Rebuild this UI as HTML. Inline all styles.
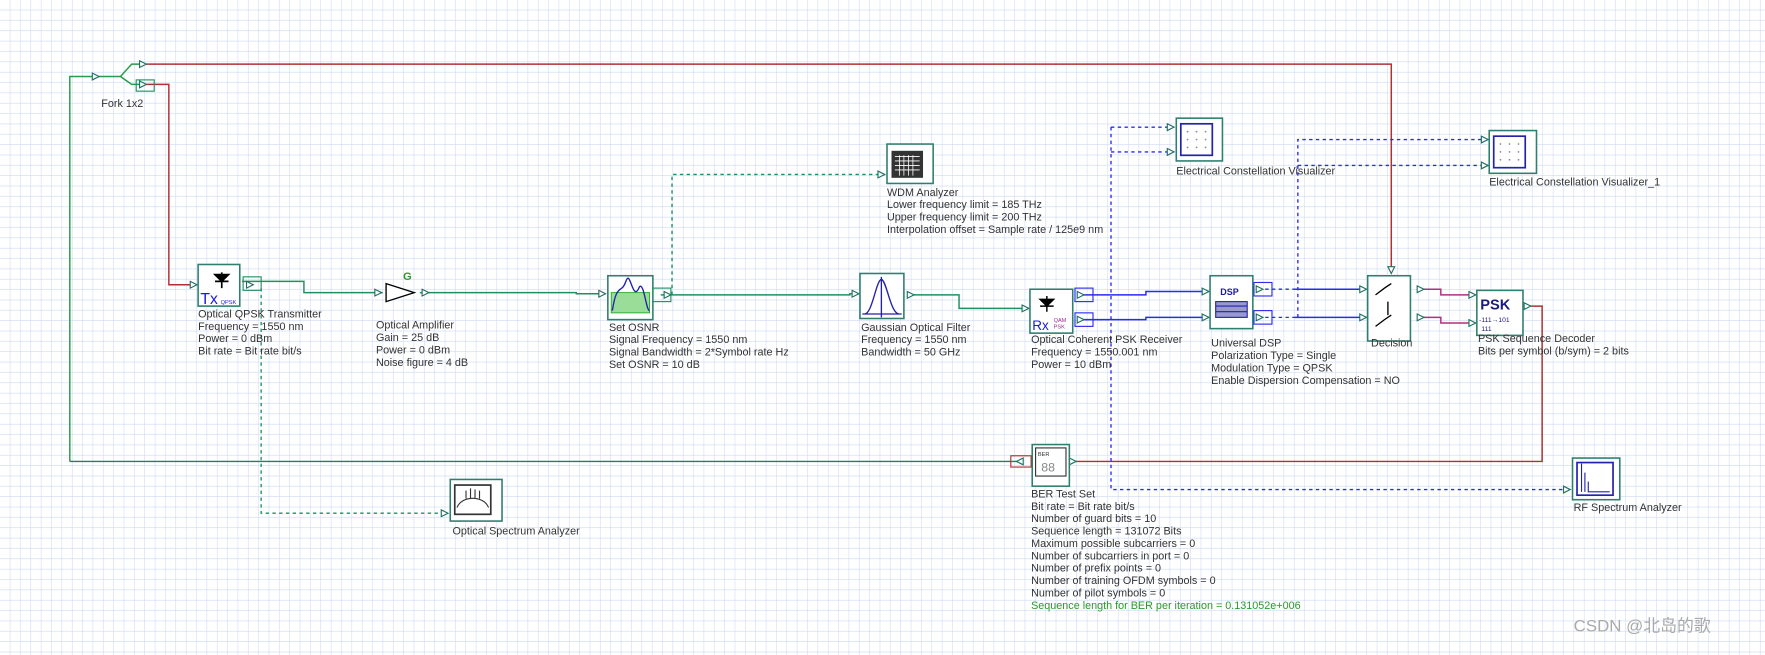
<!DOCTYPE html>
<html><head><meta charset="utf-8"><style>
html,body{margin:0;padding:0;background:#fff;}
svg{display:block;}
text{font-family:"Liberation Sans",Arial,sans-serif;font-size:9.6px;fill:#333;}
</style></head><body>
<svg width="1765" height="655" viewBox="0 0 1568 582" preserveAspectRatio="none" xmlns="http://www.w3.org/2000/svg">
<defs>
<pattern id="g" width="9.2" height="9.2" patternUnits="userSpaceOnUse">
<path d="M9.2 0V9.2H0" fill="none" stroke="#ccdaf3" stroke-width="1"/>
</pattern>
</defs>
<rect width="1568" height="582" fill="#fff"/>
<rect width="1568" height="582" fill="url(#g)"/>

<g fill="none" stroke-width="1.3">
<path d="M62 410V68H107L117 57H130M107 68L117 75H130" stroke="#2a9a4a"/>
<path d="M130 57H1236V243" stroke="#b03030"/>
<path d="M130 75H150V253H175" stroke="#b03030"/>
<path d="M62 410H907" stroke="#1f8060"/>
<path d="M215 250H270V260H340" stroke="#1f9060"/>
<path d="M373 260H512V261H538" stroke="#1f9060"/>
<path d="M587 262H755V261H763" stroke="#1f9060"/>
<path d="M810 262H852V274H914" stroke="#1f9060"/>
<path d="M1360 272H1370V410H955" stroke="#b03030"/>
<path d="M958 262H1018V259H1074M958 284H1018V282H1074" stroke="#2a2af0"/>
<path d="M1150 257H1214M1150 282H1214" stroke="#2a2af0"/>
<path d="M1262 257H1280V262H1311M1262 282H1280V287H1311" stroke="#b0307a"/>
</g>
<g fill="none" stroke-width="1.2" stroke-dasharray="3,3">
<path d="M232 256V456H398" stroke="#1f9060"/>
<path d="M597 262V155H786" stroke="#1f9060"/>
<path d="M1118 257H1150M1118 282H1150M1153 282V124H1322M1153 147H1322" stroke="#2a2af0"/>
<path d="M958 284H987M987 113V435H1395M987 113H1043M987 135H1043" stroke="#2a2af0"/>
</g>

<g fill="#fff" stroke="#1f7060" stroke-width="1">
<path d="M82 65L88 68L82 71Z"/><path d="M124 54L130 57L124 60Z"/><path d="M124 72L130 75L124 78Z"/>
<path d="M169 250L175 253L169 256Z"/><path d="M219 250L225 253L219 256Z"/>
<path d="M333 257L339 260L333 263Z"/><path d="M375 257L381 260L375 263Z"/>
<path d="M532 258L538 261L532 264Z"/><path d="M590 259L596 262L590 265Z"/>
<path d="M757 258L763 261L757 264Z"/><path d="M806 259L812 262L806 265Z"/>
<path d="M908 271L914 274L908 277Z"/>
<path d="M957 259L963 262L957 265Z"/><path d="M957 281L963 284L957 287Z"/>
<path d="M1068 256L1074 259L1068 262Z"/><path d="M1068 279L1074 282L1068 285Z"/>
<path d="M1116 254L1122 257L1116 260Z"/><path d="M1116 279L1122 282L1116 285Z"/>
<path d="M1208 254L1214 257L1208 260Z"/><path d="M1208 279L1214 282L1208 285Z"/>
<path d="M1259 254L1265 257L1259 260Z"/><path d="M1259 279L1265 282L1259 285Z"/>
<path d="M1305 259L1311 262L1305 265Z"/><path d="M1305 284L1311 287L1305 290Z"/>
<path d="M1354 269L1360 272L1354 275Z"/>
<path d="M1233 237L1236 243L1239 237Z"/>
<path d="M780 152L786 155L780 158Z"/><path d="M392 453L398 456L392 459Z"/>
<path d="M1037 110L1043 113L1037 116Z"/><path d="M1037 132L1043 135L1037 138Z"/>
<path d="M1316 121L1322 124L1316 127Z"/><path d="M1316 144L1322 147L1316 150Z"/>
<path d="M1389 432L1395 435L1389 438Z"/>
<path d="M909 407L903 410L909 413Z"/><path d="M950 407L956 410L950 413Z"/>
</g>
<g fill="none" stroke-width="1">
<rect x="216" y="246" width="16" height="12" stroke="#1f9060"/>
<rect x="580" y="256" width="16" height="12" stroke="#1f9060"/>
<rect x="955" y="256" width="16" height="12" stroke="#2a2af0"/>
<rect x="955" y="278" width="16" height="12" stroke="#2a2af0"/>
<rect x="1114" y="251" width="16" height="12" stroke="#2a2af0"/>
<rect x="1114" y="276" width="16" height="12" stroke="#2a2af0"/>
<rect x="121" y="71" width="16" height="10" stroke="#1f9060"/>
<rect x="898" y="405" width="18" height="10" stroke="#b03030"/>
</g>

<g fill="#fff" stroke="#2f7f6f" stroke-width="1.4">
<rect x="176" y="235" width="37" height="37"/>
<rect x="540" y="245" width="40" height="39"/>
<rect x="764" y="243" width="39" height="40"/>
<rect x="915" y="257" width="38" height="39"/>
<rect x="1075" y="245" width="38" height="47"/>
<rect x="1215" y="245" width="38" height="58"/>
<rect x="1312" y="258" width="41" height="40"/>
<rect x="788" y="128" width="41" height="35"/>
<rect x="1045" y="105" width="41" height="38"/>
<rect x="1323" y="116" width="42" height="38"/>
<rect x="400" y="426" width="46" height="37"/>
<rect x="1397" y="407" width="42" height="37"/>
<rect x="917" y="395" width="33" height="37"/>
</g>
<g>
<path d="M191 244l6 6 6-6zM191 250h12M197 242v14" stroke="#000" stroke-width="1.5" fill="#000"/>
<text x="178" y="270" style="font-size:14px;fill:#1a1adf">Tx</text><text x="196" y="270" style="font-size:5px;fill:#1a1adf">QPSK</text>
<path d="M343 252L368 260L343 268Z" fill="#fff" stroke="#000" stroke-width="1.2"/>
<text x="358" y="249" style="font-size:10px;fill:#2a9a2a;font-weight:bold">G</text>
<rect x="543" y="260" width="34" height="18" fill="#9d9" stroke="#2a2" stroke-width=".8"/>
<path d="M544 276C548 250 552 262 556 250C560 238 562 270 568 255C572 250 574 276 577 276" fill="none" stroke="#22a" stroke-width="1.2"/>
<path d="M768 279C775 279 778 250 783 248C788 250 791 279 799 279M783 246V282M766 279H801" fill="none" stroke="#22a" stroke-width="1.2"/>
<path d="M924 266l6 6 6-6zM924 272h12M930 263v14" stroke="#000" stroke-width="1.3" fill="#000"/>
<text x="917" y="293" style="font-size:12px;fill:#1a1adf">Rx</text><text x="936" y="286" style="font-size:5px;fill:#a03090">QAM</text><text x="936" y="292" style="font-size:5px;fill:#a03090">PSK</text>
<text x="1084" y="262" style="font-size:8px;fill:#1a1a9f;font-weight:bold">DSP</text>
<rect x="1080" y="268" width="28" height="14" fill="#99c" stroke="#22a"/>
<path d="M1080 272H1108M1080 277H1108" stroke="#22a"/>
<path d="M1222 262l8-6 6-4M1222 290l8-6 6-4M1233 268v12" stroke="#000" stroke-width="1.2" fill="none"/>
<text x="1315" y="275" style="font-size:13px;fill:#1a1a7f;font-weight:bold">PSK</text>
<text x="1314" y="286" style="font-size:6px;fill:#1a1a7f">-111→101</text><text x="1316" y="294" style="font-size:6px;fill:#1a1a7f">111</text>
<rect x="792" y="134" width="28" height="24" fill="#333"/>
<path d="M795 139H817M795 143H817M795 147H817M795 151H817M799 138V156M803 138V156M807 138V156M811 138V156" stroke="#fff" stroke-width=".7"/>
<rect x="1049" y="110" width="28" height="28" fill="#fff" stroke="#22a" stroke-width="1.5"/>
<rect x="1327" y="121" width="28" height="28" fill="#fff" stroke="#22a" stroke-width="1.5"/>
<g fill="#88a"><circle cx="1055" cy="117" r=".8"/><circle cx="1063" cy="117" r=".8"/><circle cx="1071" cy="117" r=".8"/><circle cx="1055" cy="124" r=".8"/><circle cx="1063" cy="124" r=".8"/><circle cx="1071" cy="124" r=".8"/><circle cx="1055" cy="131" r=".8"/><circle cx="1063" cy="131" r=".8"/><circle cx="1071" cy="131" r=".8"/>
<circle cx="1333" cy="128" r=".8"/><circle cx="1341" cy="128" r=".8"/><circle cx="1349" cy="128" r=".8"/><circle cx="1333" cy="135" r=".8"/><circle cx="1341" cy="135" r=".8"/><circle cx="1349" cy="135" r=".8"/><circle cx="1333" cy="142" r=".8"/><circle cx="1341" cy="142" r=".8"/><circle cx="1349" cy="142" r=".8"/></g>
<rect x="404" y="431" width="32" height="26" fill="#fff" stroke="#333" stroke-width="1.5"/>
<path d="M406 451C410 440 430 440 434 451M414 443V436M418 443V434M422 443V435M426 443V436" stroke="#333" fill="none"/>
<rect x="1401" y="411" width="32" height="29" fill="#fff" stroke="#22a" stroke-width="1.5"/>
<path d="M1405 412V437M1408 420V437M1411 428V437H1430" stroke="#22a" fill="none"/>
<rect x="920" y="398" width="27" height="25" fill="#fff" stroke="#333"/>
<text x="922" y="405" style="font-size:5px;fill:#333">BER</text>
<text x="925" y="419" style="font-size:11px;fill:#888">88</text>
</g>

<text x="90" y="95">Fork 1x2</text>
<g>
<text x="176" y="282">Optical QPSK Transmitter</text><text x="176" y="293">Frequency = 1550  nm</text><text x="176" y="304">Power = 0  dBm</text><text x="176" y="315">Bit rate = Bit rate  bit/s</text>
<text x="334" y="292">Optical Amplifier</text><text x="334" y="303">Gain = 25  dB</text><text x="334" y="314">Power = 0  dBm</text><text x="334" y="325">Noise figure = 4  dB</text>
<text x="541" y="294">Set OSNR</text><text x="541" y="305">Signal Frequency = 1550  nm</text><text x="541" y="316">Signal Bandwidth = 2*Symbol rate  Hz</text><text x="541" y="327">Set OSNR = 10  dB</text>
<text x="765" y="294">Gaussian Optical Filter</text><text x="765" y="305">Frequency = 1550  nm</text><text x="765" y="316">Bandwidth = 50  GHz</text>
<text x="788" y="174">WDM Analyzer</text><text x="788" y="185">Lower frequency limit = 185  THz</text><text x="788" y="196">Upper frequency limit = 200  THz</text><text x="788" y="207">Interpolation offset = Sample rate / 125e9  nm</text>
<text x="916" y="305">Optical Coherent PSK Receiver</text><text x="916" y="316">Frequency = 1550.001  nm</text><text x="916" y="327">Power = 10  dBm</text>
<text x="1076" y="308">Universal DSP</text><text x="1076" y="319">Polarization Type = Single</text><text x="1076" y="330">Modulation Type = QPSK</text><text x="1076" y="341">Enable Dispersion Compensation = NO</text>
<text x="1218" y="308">Decision</text>
<text x="1313" y="304">PSK Sequence Decoder</text><text x="1313" y="315">Bits per symbol (b/sym) = 2  bits</text>
<text x="1045" y="155">Electrical Constellation Visualizer</text>
<text x="1323" y="165">Electrical Constellation Visualizer_1</text>
<text x="402" y="475">Optical Spectrum Analyzer</text>
<text x="1398" y="454">RF Spectrum Analyzer</text>
<text x="916" y="442">BER Test Set</text><text x="916" y="453">Bit rate = Bit rate  bit/s</text><text x="916" y="464">Number of guard bits = 10</text><text x="916" y="475">Sequence length = 131072  Bits</text><text x="916" y="486">Maximum possible subcarriers = 0</text><text x="916" y="497">Number of subcarriers in port = 0</text><text x="916" y="508">Number of prefix points = 0</text><text x="916" y="519">Number of training OFDM symbols = 0</text><text x="916" y="530">Number of pilot symbols = 0</text><text x="916" y="541" style="fill:#2a9a2a">Sequence length for BER per iteration = 0.131052e+006</text>
</g>
<text x="1398" y="561" style="font-family:'Liberation Sans','Noto Sans CJK SC',sans-serif;font-size:15px;fill:#aaa">CSDN @北岛的歌</text>
</svg>
</body></html>
